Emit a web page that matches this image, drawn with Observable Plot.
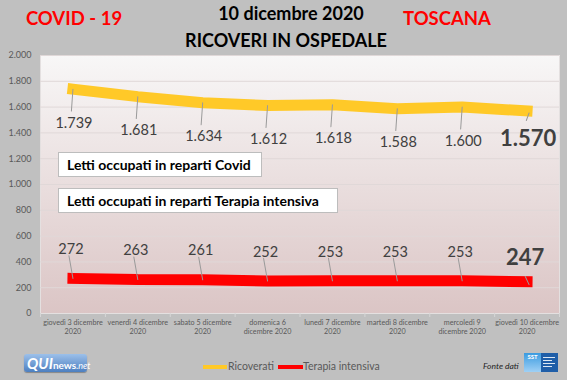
<!DOCTYPE html>
<html>
<head>
<meta charset="utf-8">
<script src="https://cdn.jsdelivr.net/npm/d3@7"></script>
<script src="https://cdn.jsdelivr.net/npm/@observablehq/plot@0.6"></script>
<style>
  html, body { margin: 0; padding: 0; background: #c0c0c0; }
  #wrap { position: relative; width: 567px; height: 380px; overflow: hidden; background: #c0c0c0; font-family: Lato, sans-serif; }
  #wrap svg.chart { position: absolute; left: 0; top: 0; }
  .box { position: absolute; background: #fff; border: 1px solid #bdbdbd; box-sizing: border-box; font: bold 14px Lato, sans-serif; color: #000; padding-left: 8px; line-height: 23px; white-space: nowrap; }
  .leg { position: absolute; font: 10.5px Lato, sans-serif; color: #595959; white-space: nowrap; }
  .sw { position: absolute; height: 4px; }
</style>
</head>
<body>
<div id="wrap"></div>
<script>
// ---- data ----
const categories = [
  "giovedì 3 dicembre\n2020",
  "venerdì 4 dicembre\n2020",
  "sabato 5 dicembre\n2020",
  "domenica 6\ndicembre 2020",
  "lunedì 7 dicembre\n2020",
  "martedì 8 dicembre\n2020",
  "mercoledì 9\ndicembre 2020",
  "giovedì 10 dicembre\n2020"
];
const ricoverati = [1739, 1681, 1634, 1612, 1618, 1588, 1600, 1570];
const terapiaIntensiva = [272, 263, 261, 252, 253, 253, 253, 247];
const yTicks = [0, 200, 400, 600, 800, 1000, 1200, 1400, 1600, 1800, 2000];
const seriesNames = ["Ricoverati", "Terapia intensiva"];

const n = categories.length;
const rows = categories.map((c, i) => ({i, xc: i + 0.5, ric: ricoverati[i], ti: terapiaIntensiva[i]}));
const itFmt = d3.formatLocale({decimal: ",", thousands: ".", grouping: [3], currency: ["", "€"]}).format(",");

const YELLOW = "#ffc928", RED = "#ff0000", LABEL = "#404040", AXIS = "#595959", LEAD = "#9a9a9a";
const leader = {draw(ctx, l) { ctx.moveTo(0, 0); ctx.lineTo(0, -l); }};
const isLast = (d) => d.i === n - 1;
const notLast = (d) => d.i !== n - 1;

const chart = Plot.plot({
  width: 567, height: 380,
  marginTop: 55, marginBottom: 67, marginLeft: 40, marginRight: 8,
  style: {background: "transparent", fontFamily: "Lato, sans-serif", overflow: "visible"},
  x: {domain: [0, n], axis: null, label: null},
  y: {domain: [0, 2000], axis: null, label: null},
  marks: [
    Plot.frame({fill: "url(#bgGrad)", stroke: "#e4e0e0"}),
    Plot.gridY(yTicks.slice(1), {stroke: "#e0d8d8", strokeOpacity: 1}),
    Plot.axisY(yTicks, {label: null, tickSize: 0, tickPadding: 9, tickFormat: itFmt, fontSize: 9, fill: AXIS}),
    Plot.axisX(d3.range(n + 1), {label: null, tickSize: 4, tickFormat: () => "", stroke: "#d6d6d6"}),
    Plot.axisX(rows.map(d => d.xc), {label: null, tickSize: 0, tickPadding: 5, tickFormat: (d) => categories[Math.floor(d)], fontSize: 7.2, lineHeight: 1.25, fill: AXIS}),
    Plot.line(rows, {x: "xc", y: "ric", stroke: YELLOW, strokeWidth: 11, strokeLinecap: "square", strokeLinejoin: "miter"}),
    Plot.line(rows, {x: "xc", y: "ti", stroke: RED, strokeWidth: 11, strokeLinecap: "square", strokeLinejoin: "miter"}),
    Plot.vector(rows, {filter: notLast, x: "xc", y: "ric", length: 22, rotate: 184, anchor: "start", shape: leader, stroke: LEAD, strokeWidth: 1}),
    Plot.vector(rows, {filter: isLast, x: "xc", y: "ric", length: 8, rotate: 200, anchor: "start", shape: leader, stroke: LEAD, strokeWidth: 1, dy: 2, dx: 2}),
    Plot.vector(rows, {filter: notLast, x: "xc", y: "ti", length: 23, rotate: 350, anchor: "start", shape: leader, stroke: LEAD, strokeWidth: 1}),
    Plot.vector(rows, {filter: isLast, x: "xc", y: "ti", length: 9, rotate: 335, anchor: "start", shape: leader, stroke: LEAD, strokeWidth: 1, dx: 2, dy: 3}),
    Plot.text(rows, {filter: notLast, x: "xc", y: "ric", text: (d) => itFmt(d.ric), dx: 1, dy: 34, fontSize: 14.5, fill: LABEL}),
    Plot.text(rows, {filter: isLast, x: "xc", y: "ric", text: (d) => itFmt(d.ric), dx: 1, dy: 28, fontSize: 22, fontWeight: "bold", fill: LABEL}),
    Plot.text(rows, {filter: notLast, x: "xc", y: "ti", text: (d) => itFmt(d.ti), dx: -2, dy: -29, fontSize: 14.5, fill: LABEL}),
    Plot.text(rows, {filter: isLast, x: "xc", y: "ti", text: (d) => itFmt(d.ti), dx: -2, dy: -24, fontSize: 22, fontWeight: "bold", fill: LABEL})
  ]
});
chart.classList.add("chart");
const defs = d3.select(chart).insert("defs", ":first-child");
const g = defs.append("linearGradient").attr("id", "bgGrad").attr("x1", 0).attr("y1", 0).attr("x2", 0).attr("y2", 1);
g.append("stop").attr("offset", "0%").attr("stop-color", "#f8f7f7");
g.append("stop").attr("offset", "100%").attr("stop-color", "#dbc5c5");

const wrap = document.getElementById("wrap");
wrap.appendChild(chart);

// ---- titles (overlay svg) ----
const ov = d3.select(wrap).append("svg").attr("width", 567).attr("height", 380)
  .style("position", "absolute").style("left", 0).style("top", 0).style("pointer-events", "none");
const title = [
  {t: "COVID - 19", x: 74, y: 25, c: "#ff0000", s: 18.5},
  {t: "10 dicembre 2020", x: 291, y: 20, c: "#000", s: 18},
  {t: "TOSCANA", x: 447, y: 25, c: "#ff0000", s: 18.5},
  {t: "RICOVERI IN OSPEDALE", x: 286, y: 47, c: "#000", s: 18}
];
ov.selectAll("text.title").data(title).join("text")
  .attr("x", d => d.x).attr("y", d => d.y).attr("text-anchor", "middle")
  .attr("fill", d => d.c).attr("font-size", d => d.s).attr("font-weight", "bold")
  .attr("font-family", "Lato, sans-serif").text(d => d.t);
ov.append("text").attr("x", 483).attr("y", 369).attr("font-size", 8.5).attr("font-style", "italic")
  .attr("font-family", "Lato, sans-serif").attr("fill", "#222").text("Fonte dati");

// ---- boxes ----
function addDiv(cls, style, html) {
  const d = document.createElement("div"); d.className = cls; Object.assign(d.style, style); d.innerHTML = html; wrap.appendChild(d); return d;
}
addDiv("box", {left: "58px", top: "152px", width: "204px", height: "25px"}, "Letti occupati in reparti Covid");
addDiv("box", {left: "58px", top: "188px", width: "280px", height: "25px"}, "Letti occupati in reparti Terapia intensiva");

// ---- legend ----
addDiv("sw", {left: "203px", top: "365px", width: "24px", background: YELLOW}, "");
addDiv("leg", {left: "228px", top: "360px"}, seriesNames[0]);
addDiv("sw", {left: "278px", top: "365px", width: "25px", background: RED}, "");
addDiv("leg", {left: "303px", top: "360px"}, seriesNames[1]);

// ---- logos ----
addDiv("", {position: "absolute", left: "24px", top: "354px", width: "63px", height: "18px", borderRadius: "3px",
  background: "linear-gradient(#9cc0ea, #4d7fc0)", boxShadow: "0 1px 1px rgba(0,0,0,0.3)", color: "#fff",
  font: "bold italic 15px Lato, sans-serif", lineHeight: "18px", paddingLeft: "3px", boxSizing: "border-box", whiteSpace: "nowrap"},
  "QUI<span style='font-size:10px;font-style:normal'>news</span><span style='font-size:9px;font-weight:normal'>.net</span>");
addDiv("", {position: "absolute", left: "524px", top: "353px", width: "17px", height: "19px", background: "linear-gradient(#3a9be0,#9fd0f5)",
  color: "#fff", font: "bold 6px Lato, sans-serif", textAlign: "center", lineHeight: "8px", overflow: "hidden"}, "SST");
const tiny = addDiv("", {position: "absolute", left: "541px", top: "353px", width: "17px", height: "19px", background: "#1f5ea8", overflow: "hidden"}, "");
[0, 1, 2, 3].forEach((k) => {
  const b = document.createElement("div");
  Object.assign(b.style, {position: "absolute", left: "2px", top: (4 + k * 3) + "px", width: (k % 2 ? 9 : 12) + "px", height: "1px", background: "#fff", opacity: 0.85});
  tiny.appendChild(b);
});
</script>
</body>
</html>
